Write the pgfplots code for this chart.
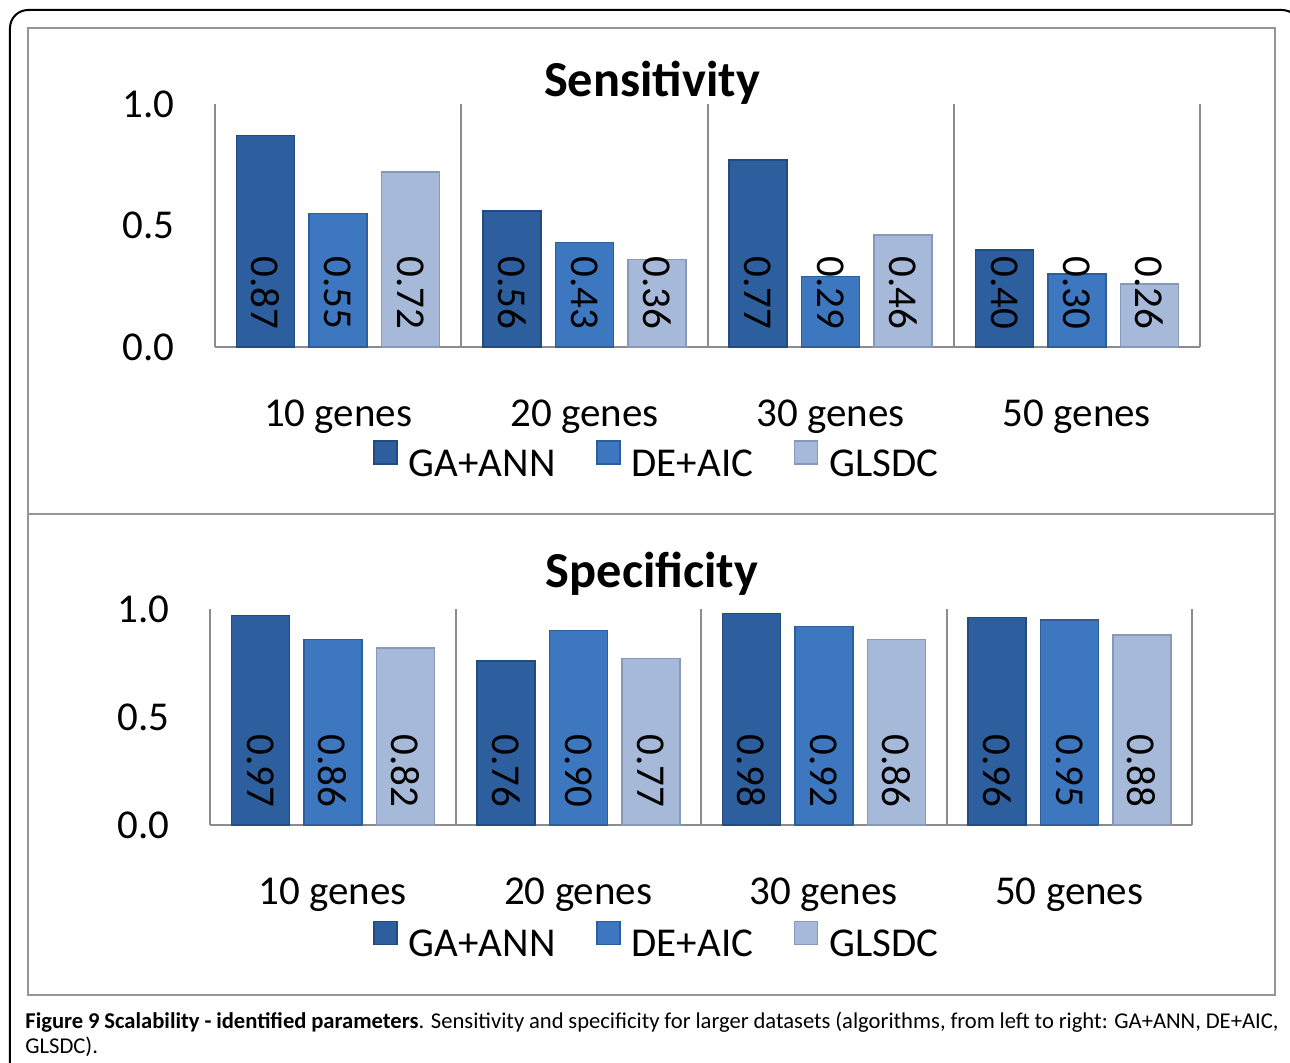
\documentclass[border=0pt]{standalone}
\usepackage{fontspec}
\setmainfont{Carlito}
\usepackage{pgfplots}
\pgfplotsset{compat=1.18}
\definecolor{axisgray}{HTML}{8C8C8C}
\definecolor{framegray}{HTML}{959595}
\definecolor{cA}{HTML}{2D5E9E}
\definecolor{cAe}{HTML}{214C82}
\definecolor{cB}{HTML}{3C77C0}
\definecolor{cBe}{HTML}{2C5E9C}
\definecolor{cC}{HTML}{A7B9D8}
\definecolor{cCe}{HTML}{8799BA}
\newcommand{\chartfont}{\fontsize{20.5bp}{24bp}\selectfont}
\pgfplotsset{
  panel/.style={
    scale only axis,
    ymin=0, ymax=1, xmin=-0.5, xmax=3.5,
    ytick={0,0.5,1},
    xtick={0,1,2,3},
    xticklabels={10 genes,20 genes,30 genes,50 genes},
    minor xtick={0.5,1.5,2.5,3.5},
    xminorgrids=true,
    minor grid style={draw=axisgray, line width=1bp},
    axis x line*=bottom, axis y line*=left,
    axis line style={draw=axisgray, line width=1bp, -},
    major tick length=0pt, minor tick length=0pt,
    ybar=7.25bp, bar width=29bp,
    tick label style={font=\chartfont, text=black},
    yticklabel style={anchor=east, inner sep=0pt, xshift=-20bp, /pgf/number format/.cd, fixed, fixed zerofill, precision=1, assume math mode=true},
    xticklabel style={anchor=base, inner sep=0pt, yshift=-39.5bp},
    visualization depends on={y \as \rawy},
    nodes near coords={\pgfmathprintnumber[fixed,fixed zerofill,precision=2,assume math mode=true]{\pgfplotspointmeta}},
    nodes near coords style={shift={(axis direction cs:0,-\rawy)}, rotate=-90, anchor=east, inner xsep=8.5bp, inner ysep=0pt, font=\chartfont, text=black},
    legend columns=3,
    legend style={draw=none, fill=none, inner sep=0pt, font=\chartfont, nodes={inner sep=0pt},
      /tikz/every odd column/.append style={column sep=5.5bp},
      /tikz/every even column/.append style={column sep=20.3bp}, anchor=west},
  },
  sqleg/.style={legend image code/.code={\path[##1] (0bp,0bp) rectangle (11.5bp,11.5bp);}},
  sA/.style={fill=cA, draw=cAe, line width=0.75bp, sqleg},
  sB/.style={fill=cB, draw=cBe, line width=0.75bp, sqleg},
  sC/.style={fill=cC, draw=cCe, line width=0.75bp, sqleg},
}
\begin{document}
\begin{tikzpicture}
\useasboundingbox (0,0) rectangle (645bp,-531.5bp);
\begin{scope}[x=0.5bp,y=-0.5bp]
\draw[black, line width=1bp, rounded corners=9bp] (10,10) rectangle (1300,1100);
\draw[framegray, line width=1.25bp] (28,28) rectangle (1275,514);
\draw[framegray, line width=1.25bp] (28,514) rectangle (1275,995);
\node[anchor=base, inner sep=0pt, font=\bfseries\fontsize{25.2bp}{29bp}\selectfont] at (652,97) {Sensitivity};
\node[anchor=base, inner sep=0pt, font=\bfseries\fontsize{25.2bp}{29bp}\selectfont] at (652,588) {Specificity};
\node[anchor=north west, inner sep=0pt, text width=626.5bp, align=justify, font=\fontsize{11.3bp}{12.5bp}\selectfont] at (25,1012)
 {\textbf{Figure 9 Scalability - identified parameters}. Sensitivity and specificity for larger datasets (algorithms, from left to right: GA+ANN, DE+AIC,\linebreak GLSDC).};
\end{scope}

\begin{axis}[panel, at={(107.5bp,-173.5bp)}, anchor=south west, width=492.5bp, height=121.5bp,
  legend style={at={(0.1604,-0.464)}}]
\addplot[sA] coordinates {(0,0.87) (1,0.56) (2,0.77) (3,0.40)};
\addplot[sB] coordinates {(0,0.55) (1,0.43) (2,0.29) (3,0.30)};
\addplot[sC] coordinates {(0,0.72) (1,0.36) (2,0.46) (3,0.26)};
\legend{GA+ANN,DE+AIC,GLSDC}
\end{axis}

\begin{axis}[panel, at={(105bp,-412.5bp)}, anchor=south west, width=491bp, height=108bp,
  legend style={at={(0.166,-0.532)}}]
\addplot[sA] coordinates {(0,0.97) (1,0.76) (2,0.98) (3,0.96)};
\addplot[sB] coordinates {(0,0.86) (1,0.90) (2,0.92) (3,0.95)};
\addplot[sC] coordinates {(0,0.82) (1,0.77) (2,0.86) (3,0.88)};
\legend{GA+ANN,DE+AIC,GLSDC}
\end{axis}
\end{tikzpicture}
\end{document}
